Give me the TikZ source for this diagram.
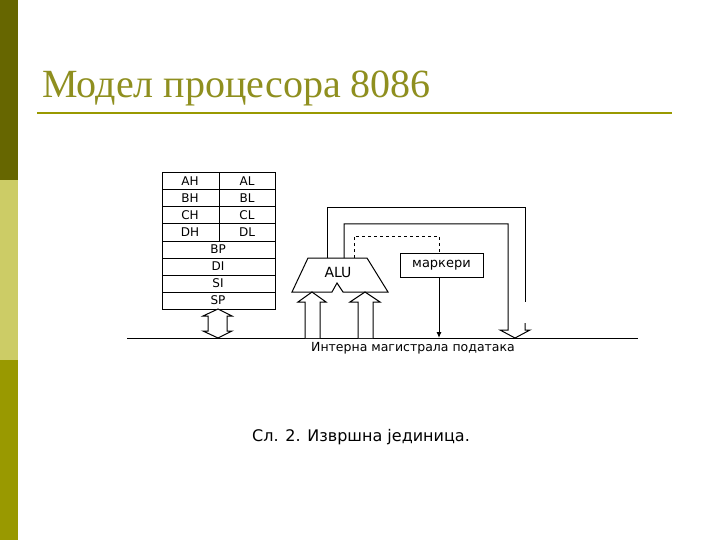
\documentclass[tikz,border=0pt]{standalone}
\usepackage{fontspec}
\usetikzlibrary{arrows.meta}
\setmainfont{DejaVu Sans}
\newfontfamily\titlefont{Liberation Serif}
\definecolor{barA}{HTML}{666600}
\definecolor{barB}{HTML}{CCCC66}
\definecolor{barC}{HTML}{999900}
\definecolor{titc}{HTML}{8F8F1F}
\begin{document}
\begin{tikzpicture}[x=1pt,y=-1pt,
  reg/.style={font=\fontsize{12}{13}\selectfont},
  ln/.style={line width=1pt},
  hollow/.style={ln,fill=white}]
\useasboundingbox (0,0) rectangle (720,540);
\fill[white] (0,0) rectangle (720,540);
\fill[barA] (0,0) rectangle (18,180);
\fill[barB] (0,180) rectangle (18,360);
\fill[barC] (0,360) rectangle (18,540);
\node[anchor=base west,inner sep=0,text=titc,font=\titlefont\fontsize{40}{42}\selectfont] (title) at (42,98) {Модел процесора 8086};
\draw[barC,line width=2pt] (37,113) -- (672,113);
% registers
\draw[ln] (162,173) rectangle (275,309);
\foreach \y in {190,207,224,241,258,275,292} \draw[ln] (162,\y) -- (275,\y);
\draw[ln] (219,173) -- (219,241);
\foreach \a/\b/\y in {AH/AL/181.5,BH/BL/198.5,CH/CL/215.5,DH/DL/232.5}{
  \node[reg] (r\a) at (190,\y) {\a};
  \node[reg] (r\b) at (247,\y) {\b};}
\foreach \t/\y in {BP/249.5,DI/266.5,SI/283.5,SP/300.5} \node[reg] (r\t) at (218,\y) {\t};
% double arrow
\draw[hollow] (218,309) -- (232,316) -- (227,316) -- (227,331) -- (232,331) -- (218,338) -- (203,331) -- (208,331) -- (208,316) -- (203,316) -- cycle;
% bus
\draw[ln] (127,338) -- (638,338);
\node[font=\fontsize{12.5}{13}\selectfont] (bus) at (413,348) {Интерна магистрала података};
% ALU
\draw[ln] (308,258) -- (367,258) -- (388,292) -- (343,292) -- (337,283) -- (332,292) -- (292,292) -- cycle;
\node[font=\fontsize{14}{15}\selectfont] (alu) at (338,272) {ALU};
% input arrows
\draw[hollow] (305,338) -- (305,302) -- (298,302) -- (312,292) -- (326,302) -- (320,302) -- (320,338);
\draw[hollow] (358,338) -- (358,302) -- (350,302) -- (365,292) -- (380,302) -- (373,302) -- (373,338);
% outputs
\draw[ln] (327,258) -- (327,208) -- (525,208) -- (525,302);
\draw[ln] (525,323) -- (525,330) -- (530,330) -- (515,338) -- (500,330) -- (508,330) -- (508,224) -- (344,224) -- (344,258);
% flags
\node[draw,ln,minimum width=83pt,minimum height=24pt,inner sep=0,font=\fontsize{13}{14}\selectfont] (flags) at (441.5,265) {маркери};
\draw[ln,dashed] (354,258) -- (354,236) -- (439,236) -- (flags.north -| 439,0);
\coordinate (fb) at (439,338);
\draw[ln,-{Latex[length=6pt,width=5pt]}] (flags.south -| 439,0) -- (fb);
\node[font=\fontsize{16}{18}\selectfont] (cap) at (361,437) {Сл. 2. Извршна јединица.};
\end{tikzpicture}
\end{document}
